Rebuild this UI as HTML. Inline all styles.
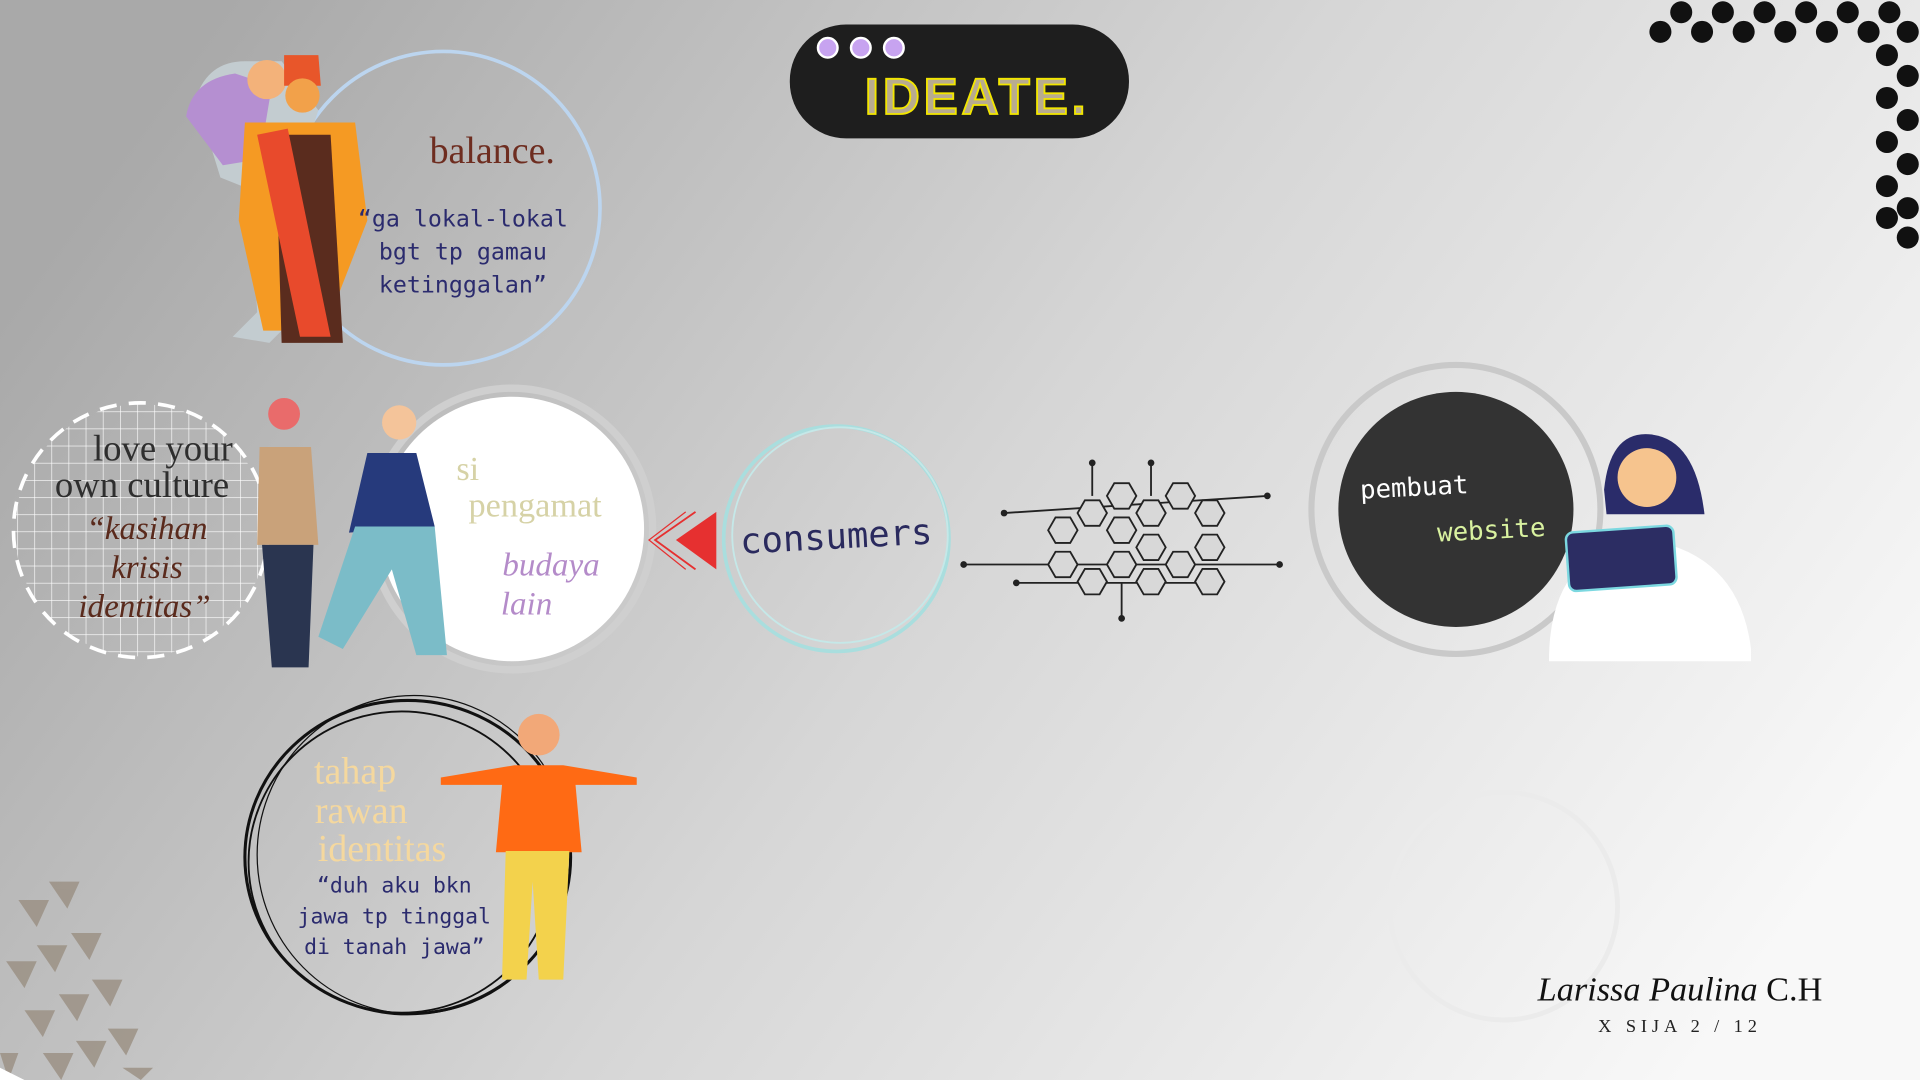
<!DOCTYPE html>
<html><head><meta charset="utf-8"><style>
html,body{margin:0;padding:0;width:1920px;height:1080px;overflow:hidden}
svg{display:block}
.mono{font-family:"DejaVu Sans Mono","Liberation Mono",monospace}
.serif{font-family:"Liberation Serif",serif}
</style></head><body>
<svg width="1920" height="1080" viewBox="0 0 1568 882" preserveAspectRatio="none">
<defs>
<linearGradient id="bg" x1="0" y1="0.3" x2="1" y2="0.7">
<stop offset="0" stop-color="#a9a9a9"/><stop offset="0.5" stop-color="#d6d6d6"/><stop offset="1" stop-color="#f8f8f8"/></linearGradient>
<pattern id="grid" width="14" height="14" patternUnits="userSpaceOnUse"><path d="M14 0H0V14" fill="none" stroke="#fff" stroke-width="1"/></pattern>
</defs>
<rect width="1568" height="882" fill="url(#bg)"/>

<g fill="#111">
<circle cx="1356" cy="26" r="9"/><circle cx="1373" cy="10" r="9"/><circle cx="1390" cy="26" r="9"/><circle cx="1407" cy="10" r="9"/><circle cx="1424" cy="26" r="9"/><circle cx="1441" cy="10" r="9"/><circle cx="1458" cy="26" r="9"/><circle cx="1475" cy="10" r="9"/><circle cx="1492" cy="26" r="9"/><circle cx="1509" cy="10" r="9"/><circle cx="1526" cy="26" r="9"/><circle cx="1543" cy="10" r="9"/>
<circle cx="1558" cy="26" r="9"/><circle cx="1541" cy="45" r="9"/><circle cx="1558" cy="62" r="9"/><circle cx="1541" cy="80" r="9"/><circle cx="1558" cy="98" r="9"/><circle cx="1541" cy="116" r="9"/><circle cx="1558" cy="134" r="9"/><circle cx="1541" cy="152" r="9"/><circle cx="1558" cy="170" r="9"/><circle cx="1541" cy="178" r="9"/><circle cx="1558" cy="194" r="9"/>
</g>

<g>
<rect x="645" y="20" width="277" height="93" rx="46" fill="#1e1e1e"/>
<circle cx="676" cy="39" r="8" fill="#c7a3f0" stroke="#fff" stroke-width="2"/>
<circle cx="703" cy="39" r="8" fill="#c7a3f0" stroke="#fff" stroke-width="2"/>
<circle cx="730" cy="39" r="8" fill="#c7a3f0" stroke="#fff" stroke-width="2"/>
<text x="798" y="93" text-anchor="middle" font-family="Liberation Sans,sans-serif" font-weight="bold" font-size="42" letter-spacing="3" fill="#b8ab90" stroke="#f2e600" stroke-width="1.5">IDEATE.</text>
</g>

<g>
<circle cx="362" cy="170" r="128" fill="none" stroke="#bcd5ef" stroke-width="3"/>
<path d="M160 80 q10-30 40-30 l30 0 30 40 -20 60 10 100 -30 30 -30-5 20-20 -5-100 -25-10 z" fill="#c3ccd0"/>
<path d="M152 95 q5-30 40-35 l30 10 -10 60 -30 5z" fill="#b58fd1"/>
<circle cx="218" cy="65" r="16" fill="#f3b27a"/>
<path d="M232 45 l28 0 2 25 -30 0z" fill="#e8562a"/>
<circle cx="247" cy="78" r="14" fill="#f2a14a"/>
<path d="M200 100 l90 0 10 80 -35 90 -50 0 -20-90z" fill="#f59a23"/>
<path d="M225 110 l45 0 10 170 -50 0z" fill="#5a2c1e"/>
<path d="M210 110 l25 -5 35 170 -25 0z" fill="#e84a2c"/>
<text x="402" y="133" text-anchor="middle" class="serif" font-size="31" fill="#6e2d20">balance.</text>
<g class="mono" font-size="19" fill="#2b2b6e" text-anchor="middle">
<text x="378" y="185">“ga lokal-lokal</text>
<text x="378" y="212">bgt tp gamau</text>
<text x="378" y="239">ketinggalan”</text>
</g></g>

<g>
<circle cx="115" cy="433" r="103" fill="url(#grid)"/>
<circle cx="115" cy="433" r="104" fill="none" stroke="#fff" stroke-width="3" stroke-dasharray="14 10"/>
<text x="133" y="376" text-anchor="middle" class="serif" font-size="30" fill="#2e2e2e">love your</text>
<text x="116" y="406" text-anchor="middle" class="serif" font-size="30" fill="#2e2e2e">own culture</text>
<g class="serif" font-style="italic" font-size="27" fill="#5a2a1c" text-anchor="middle">
<text x="120" y="440">“kasihan</text>
<text x="120" y="472">krisis</text>
<text x="118" y="504">identitas”</text>
</g>
<circle cx="232" cy="338" r="13" fill="#e96b6b"/>
<path d="M212 365 l42 0 6 80 -50 0z" fill="#c9a27a"/>
<path d="M214 445 l42 0 -4 100 -30 0z" fill="#2a3550"/>
</g>

<g>
<circle cx="418" cy="432" r="115" fill="none" stroke="#cfcfcf" stroke-width="6"/>
<circle cx="418" cy="432" r="108" fill="#fff"/>
<circle cx="326" cy="345" r="14" fill="#f4c49a"/>
<path d="M300 370 l40 0 15 60 -70 5z" fill="#263a7c"/>
<path d="M290 430 l65 0 10 105 -25 0 -20-70 -40 65 -20-10z" fill="#7bbcc8"/>
<text x="382" y="392" class="serif" font-size="28" fill="#d6d2a6" text-anchor="middle">si</text>
<text x="437" y="422" class="serif" font-size="28" fill="#d6d2a6" text-anchor="middle">pengamat</text>
<text x="450" y="470" class="serif" font-style="italic" font-size="27" fill="#b48bc9" text-anchor="middle">budaya</text>
<text x="430" y="502" class="serif" font-style="italic" font-size="27" fill="#b48bc9" text-anchor="middle">lain</text>
</g>

<g>
<path d="M585 418 L552 441 L585 465z" fill="#e63030"/>
<path d="M568 418 L535 441 L568 465" fill="none" stroke="#e63030" stroke-width="1.5"/>
<path d="M560 418 L530 441 L560 465" fill="none" stroke="#e63030" stroke-width="1"/>
</g>

<g>
<circle cx="683" cy="440" r="92" fill="none" stroke="#a9dede" stroke-width="3"/>
<circle cx="686" cy="437" r="88" fill="none" stroke="#c5e8e8" stroke-width="1.5"/>
<text x="683" y="448" text-anchor="middle" class="mono" font-size="29" fill="#2a2a5e" transform="rotate(-3 683 440)">consumers</text>
</g>

<g id="hex" stroke="#222" stroke-width="1.5" fill="none">
<line x1="787" y1="461" x2="1045" y2="461"/><line x1="820" y1="419" x2="1035" y2="405"/><line x1="830" y1="476" x2="1000" y2="476"/>
<line x1="892" y1="378" x2="892" y2="405"/><line x1="940" y1="378" x2="940" y2="405"/><line x1="916" y1="476" x2="916" y2="505"/>
<circle cx="787" cy="461" r="2" fill="#222"/><circle cx="1045" cy="461" r="2" fill="#222"/><circle cx="820" cy="419" r="2" fill="#222"/><circle cx="1035" cy="405" r="2" fill="#222"/><circle cx="892" cy="378" r="2" fill="#222"/><circle cx="940" cy="378" r="2" fill="#222"/><circle cx="916" cy="505" r="2" fill="#222"/><circle cx="830" cy="476" r="2" fill="#222"/>
</g>

<g>
<circle cx="1189" cy="416" r="118" fill="none" stroke="#c9c9c9" stroke-width="5"/>
<circle cx="1189" cy="416" r="96" fill="#333"/>
<path d="M1265 540 q0-90 75-100 q80 10 90 90 l0 10z" fill="#fff"/>
<path d="M1310 400 q5-50 40-45 q35 5 42 65 l-80 0z" fill="#2a2c6a"/>
<circle cx="1345" cy="390" r="24" fill="#f6c48e"/>
<rect x="1280" y="432" width="88" height="48" rx="6" fill="#2c2d63" stroke="#7cd8e0" stroke-width="2" transform="rotate(-4 1324 456)"/>
<text x="1155" y="405" text-anchor="middle" class="mono" font-size="21" fill="#fff" transform="rotate(-3 1155 400)">pembuat</text>
<text x="1218" y="440" text-anchor="middle" class="mono" font-size="21" fill="#d9f2a0" transform="rotate(-3 1218 435)">website</text>
</g>

<g>
<ellipse cx="333" cy="700" rx="133" ry="128" fill="none" stroke="#111" stroke-width="2.5"/>
<ellipse cx="328" cy="704" rx="125" ry="123" fill="none" stroke="#111" stroke-width="1.5"/>
<ellipse cx="338" cy="698" rx="128" ry="130" fill="none" stroke="#111" stroke-width="1"/>
<circle cx="440" cy="600" r="17" fill="#f2a878"/>
<path d="M360 635 l60 -10 40 0 60 10 0 6 -50 0 5 55 -70 0 5 -55 -50 0z" fill="#ff6a14"/>
<path d="M413 695 l52 0 -5 105 -20 0 -5 -80 -5 80 -20 0z" fill="#f3d24c"/>
<text x="290" y="640" text-anchor="middle" class="serif" font-size="31" fill="#f5d89e">tahap</text>
<text x="295" y="672" text-anchor="middle" class="serif" font-size="31" fill="#f5d89e">rawan</text>
<text x="312" y="703" text-anchor="middle" class="serif" font-size="31" fill="#f5d89e">identitas</text>
<g class="mono" font-size="17.5" fill="#2b2b6e" text-anchor="middle">
<text x="322" y="729">“duh aku bkn</text>
<text x="322" y="754">jawa tp tinggal</text>
<text x="322" y="779">di tanah jawa”</text>
</g></g>

<g fill="#9a8f82" opacity="0.8">
<path d="M40 720 l25 0 -10 22z"/><path d="M15 735 l25 0 -10 22z"/><path d="M58 762 l25 0 -10 22z"/><path d="M30 772 l25 0 -10 22z"/><path d="M5 785 l25 0 -10 22z"/><path d="M75 800 l25 0 -10 22z"/><path d="M48 812 l25 0 -10 22z"/><path d="M20 825 l25 0 -10 22z"/><path d="M88 840 l25 0 -10 22z"/><path d="M62 850 l25 0 -10 22z"/><path d="M35 860 l25 0 -10 22z"/><path d="M100 872 l25 0 -10 10z"/><path d="M0 860 l15 0 -8 22z"/>
</g>
<path d="M0 872 l20 10 -20 0z" fill="#fff"/>

<circle cx="1228" cy="740" r="93" fill="none" stroke="#ebebeb" stroke-width="4"/>

<text x="1372" y="817" text-anchor="middle" class="serif" font-size="28" fill="#111"><tspan font-style="italic">Larissa Paulina</tspan> C.H</text>
<text x="1372" y="843" text-anchor="middle" class="serif" font-size="15" letter-spacing="4" fill="#222">X SIJA 2 / 12</text>
</svg>
<script>
const hexCenters=[[892,419],[916,405],[940,419],[964,405],[988,419],[868,433],[916,433],[940,447],[988,447],[868,461],[892,475],[916,461],[964,461],[940,475],[988,475]];
const g=document.getElementById('hex');
hexCenters.forEach(([cx,cy])=>{
 const r=12;let p=[];
 for(let i=0;i<6;i++){const a=Math.PI/3*i;p.push((cx+r*Math.cos(a)).toFixed(1)+','+(cy+r*Math.sin(a)).toFixed(1));}
 const el=document.createElementNS('http://www.w3.org/2000/svg','polygon');
 el.setAttribute('points',p.join(' '));
 el.setAttribute('fill','#d8d8d8');
 
 
 g.appendChild(el);
});
</script>
</body></html>
